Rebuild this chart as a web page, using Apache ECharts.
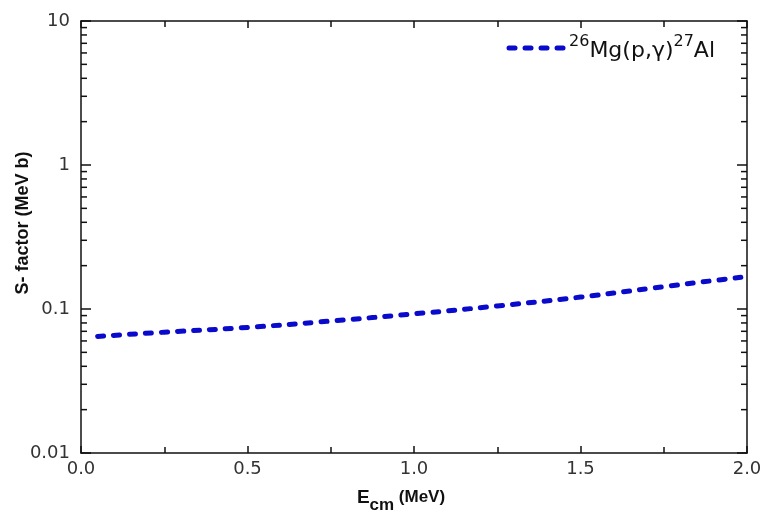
<!DOCTYPE html>
<html>
<head>
    <meta charset="UTF-8">
    <script type="text/javascript" src="https://cdn.jsdelivr.net/npm/echarts@6/dist/echarts.min.js"></script>
    <style type="text/css">
        *{
            margin: 0;
            padding: 0;
        }
        #main{
            width: 766px;
            height: 512px;
        }
    </style>
</head>
<body>
<div id="main"></div>
<script type="text/javascript">
    // energy (MeV) and S-factor (MeV b)
    var energy = [0.05, 0.25, 0.5, 0.75, 1.0, 1.25, 1.5, 1.75, 2.0];
    var sFactor = [0.0645, 0.069, 0.0745, 0.0825, 0.0925, 0.105, 0.121, 0.143, 0.168];
    var yMinorTicks = [0.02, 0.03, 0.04, 0.05, 0.06, 0.07, 0.08, 0.09,
        0.2, 0.3, 0.4, 0.5, 0.6, 0.7, 0.8, 0.9,
        2, 3, 4, 5, 6, 7, 8, 9];

    var lineData = energy.map(function (e, i) { return [e, sFactor[i]]; });
    var font = 'DejaVu Sans';
    var boldFont = 'Liberation Sans';
    var blue = '#0a0acc';
    var dash = { color: blue, width: 5, type: [6, 10], cap: 'round' };

    var myChart = echarts.init(document.getElementById('main'));
    var option = {
        backgroundColor: '#fff',
        animation: false,
        grid: {
            left: 81,
            right: 19,
            top: 21,
            bottom: 59,
            outerBoundsMode: 'none'
        },
        legend: {
            data: ['mg'],
            right: 46,
            top: 29,
            itemWidth: 55,
            itemHeight: 12,
            itemGap: 5,
            itemStyle: { opacity: 0 },
            lineStyle: dash,
            formatter: function () {
                return '{sup|26}{t|Mg(p,γ)}{sup|27}{t|Al}';
            },
            textStyle: {
                fontFamily: font,
                color: '#111',
                rich: {
                    t: { fontSize: 22, fontFamily: font, color: '#111', verticalAlign: 'bottom', lineHeight: 28 },
                    sup: { fontSize: 16, fontFamily: font, color: '#111', verticalAlign: 'top', lineHeight: 28 }
                }
            }
        },
        xAxis: [{
            type: 'value',
            min: 0,
            max: 2,
            interval: 0.5,
            name: '{e|E}{s|cm}{m| (MeV)}',
            nameLocation: 'middle',
            nameGap: 35,
            nameMoveOverlap: false,
            nameTextStyle: {
                padding: [0, 26, 0, 0],
                rich: {
                    e: { fontSize: 19, fontWeight: 'bold', fontFamily: boldFont, color: '#111', verticalAlign: 'top', lineHeight: 22 },
                    s: { fontSize: 17, fontWeight: 'bold', fontFamily: boldFont, color: '#111', verticalAlign: 'top', lineHeight: 22, padding: [9, 0, 0, 0] },
                    m: { fontSize: 17, fontWeight: 'bold', fontFamily: boldFont, color: '#111', verticalAlign: 'top', lineHeight: 22, padding: [1, 0, 0, 0] }
                }
            },
            axisLine: { lineStyle: { color: '#111', width: 1.5 } },
            axisTick: { inside: true, length: 7, lineStyle: { color: '#111', width: 1.5 } },
            minorTick: { show: true, splitNumber: 2, length: 6, lineStyle: { color: '#111', width: 1.5 } },
            axisLabel: {
                fontSize: 18,
                fontFamily: font,
                color: '#333',
                margin: 7,
                formatter: function (v) { return v.toFixed(1); }
            },
            splitLine: { show: false }
        }, {
            type: 'value',
            position: 'top',
            min: 0,
            max: 2,
            interval: 0.5,
            axisLine: { onZero: false, lineStyle: { color: '#111', width: 1.5 } },
            axisTick: { inside: true, length: 7, lineStyle: { color: '#111', width: 1.5 } },
            minorTick: { show: true, splitNumber: 2, length: 6, lineStyle: { color: '#111', width: 1.5 } },
            axisLabel: { show: false },
            splitLine: { show: false }
        }],
        yAxis: [{
            type: 'log',
            logBase: 10,
            min: 0.01,
            max: 10,
            name: 'S- factor (MeV b)',
            nameLocation: 'middle',
            nameRotate: 90,
            nameGap: 49,
            nameMoveOverlap: false,
            nameTextStyle: {
                fontSize: 18,
                fontWeight: 'bold',
                fontFamily: boldFont,
                color: '#111',
                padding: [0, 0, 0, 28]
            },
            axisLine: { show: true, lineStyle: { color: '#111', width: 1.5 } },
            axisTick: { inside: true, length: 10, lineStyle: { color: '#111', width: 1.5 } },
            axisLabel: {
                fontSize: 18,
                fontFamily: font,
                color: '#333',
                margin: 11,
                formatter: function (v) { return String(+v.toPrecision(3)); }
            },
            splitLine: { show: false }
        }, {
            type: 'log',
            logBase: 10,
            min: 0.01,
            max: 10,
            position: 'right',
            axisLine: { show: true, onZero: false, lineStyle: { color: '#111', width: 1.5 } },
            axisTick: { inside: true, length: 10, lineStyle: { color: '#111', width: 1.5 } },
            axisLabel: { show: false },
            splitLine: { show: false }
        }],
        series: [{
            name: 'mg',
            type: 'line',
            smooth: true,
            symbol: 'none',
            data: lineData,
            lineStyle: dash,
            itemStyle: { color: blue },
            z: 5
        }, {
            // minor log ticks on left and right frame
            name: 'minorTicks',
            type: 'custom',
            silent: true,
            clip: false,
            data: yMinorTicks,
            encode: { y: 0 },
            renderItem: function (params, api) {
                var v = api.value(0);
                var l = api.coord([0, v]);
                var r = api.coord([2, v]);
                var st = { stroke: '#111', lineWidth: 1.5 };
                return {
                    type: 'group',
                    children: [
                        { type: 'line', shape: { x1: l[0], y1: l[1], x2: l[0] + 6, y2: l[1] }, style: st },
                        { type: 'line', shape: { x1: r[0], y1: r[1], x2: r[0] - 6, y2: r[1] }, style: st }
                    ]
                };
            }
        }]
    };
    myChart.setOption(option);
</script>
</body>
</html>
